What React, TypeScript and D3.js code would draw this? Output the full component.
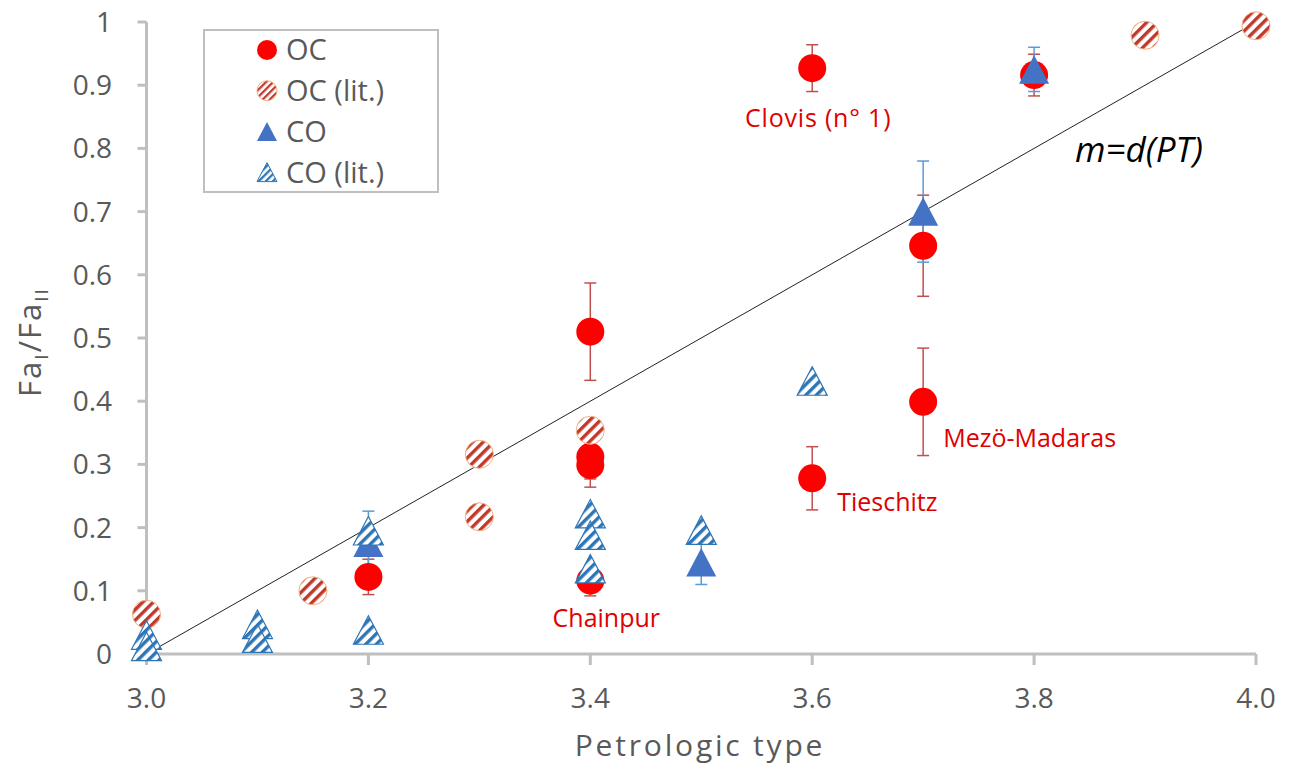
import React from "react";
import * as d3 from "d3";

const ocX = [3.2, 3.4, 3.4, 3.4, 3.4, 3.6, 3.6, 3.7, 3.7, 3.8];
const ocY = [0.122, 0.51, 0.312, 0.299, 0.116, 0.927, 0.278, 0.646, 0.399, 0.916];
const ocErr = [0.028, 0.077, 0.035, 0.035, 0.024, 0.037, 0.05, 0.08, 0.085, 0.033];

const ocLitX = [3.0, 3.15, 3.3, 3.3, 3.4, 3.9, 4.0];
const ocLitY = [0.063, 0.1, 0.316, 0.217, 0.354, 0.979, 0.994];

const coX = [3.2, 3.5, 3.7, 3.8];
const coY = [0.176, 0.145, 0.7, 0.925];
const coErr = [0.05, 0.035, 0.08, 0.035];

const coLitX = [3.0, 3.0, 3.1, 3.1, 3.2, 3.2, 3.4, 3.4, 3.4, 3.5, 3.6];
const coLitY = [0.03, 0.012, 0.047, 0.025, 0.038, 0.195, 0.222, 0.188, 0.135, 0.196, 0.432];

const fitLine = [
  [3.01, 0.01],
  [4.0, 1.0],
];

const xTicks = [3.0, 3.2, 3.4, 3.6, 3.8, 4.0];
const yTicks = [0, 0.1, 0.2, 0.3, 0.4, 0.5, 0.6, 0.7, 0.8, 0.9, 1];

const legendNames = ["OC", "OC (lit.)", "CO", "CO (lit.)"];

const labelNames = ["Clovis (n° 1)", "Chainpur", "Tieschitz", "Mezö-Madaras"];
const labelX = [3.6, 3.4, 3.6, 3.7];
const labelY = [0.927, 0.116, 0.278, 0.399];

const W = 1296;
const H = 771;
const FONT = "'Open Sans', Lato, sans-serif";
const GREY = "#595959";
const AXIS = "#BFBFBF";
const RED = "#FF0000";
const RED_ERR = "#C0504D";
const HATCH_RED = "#C0392B";
const BLUE = "#4472C4";
const BLUE_ERR = "#5B9BD5";
const HATCH_BLUE = "#2E75B6";
const LABEL_RED = "#E00000";

const x = d3.scaleLinear().domain([3, 4]).range([146.5, 1256]);
const y = d3.scaleLinear().domain([0, 1]).range([654, 22]);

const R = 14;
const TRI = 15; // half-width

function triPath(cx: number, cy: number, h: number) {
  const hh = h * 0.95;
  return `M${cx},${cy - hh} L${cx + h},${cy + hh} L${cx - h},${cy + hh} Z`;
}

function ErrBar({ px, v, e, color }: { px: number; v: number; e: number; color: string }) {
  const y1 = y(v + e);
  const y2 = y(v - e);
  return (
    <g stroke={color} strokeWidth={1.5}>
      <line x1={px} x2={px} y1={y1} y2={y2} />
      <line x1={px - 6} x2={px + 6} y1={y1} y2={y1} />
      <line x1={px - 6} x2={px + 6} y1={y2} y2={y2} />
    </g>
  );
}

export default function App() {
  const line = d3
    .line<number[]>()
    .x((d) => x(d[0]))
    .y((d) => y(d[1]));

  return (
    <svg
      width={W}
      height={H}
      style={{ position: "absolute", left: 0, top: 0, background: "#fff" }}
      fontFamily={FONT}
    >
      <defs>
        <pattern id="hRed" patternUnits="userSpaceOnUse" width={7.5} height={7.5} patternTransform="rotate(45)">
          <rect width={7.5} height={7.5} fill="#fff" />
          <rect width={3.4} height={7.5} fill={HATCH_RED} />
        </pattern>
        <pattern id="hBlue" patternUnits="userSpaceOnUse" width={7.5} height={7.5} patternTransform="rotate(45)">
          <rect width={7.5} height={7.5} fill="#fff" />
          <rect width={3.4} height={7.5} fill={HATCH_BLUE} />
        </pattern>
        <pattern id="hRedS" patternUnits="userSpaceOnUse" width={5} height={5} patternTransform="rotate(45)">
          <rect width={5} height={5} fill="#fff" />
          <rect width={2.3} height={5} fill={HATCH_RED} />
        </pattern>
        <pattern id="hBlueS" patternUnits="userSpaceOnUse" width={5} height={5} patternTransform="rotate(45)">
          <rect width={5} height={5} fill="#fff" />
          <rect width={2.3} height={5} fill={HATCH_BLUE} />
        </pattern>
      </defs>

      {/* axes */}
      <line x1={x(3)} x2={x(4)} y1={y(0)} y2={y(0)} stroke={AXIS} strokeWidth={3} />
      <line x1={x(3)} x2={x(3)} y1={y(0)} y2={y(1)} stroke={AXIS} strokeWidth={3} />
      {yTicks.map((t) => (
        <g key={"y" + t}>
          <line x1={x(3) - 9} x2={x(3)} y1={y(t)} y2={y(t)} stroke={AXIS} strokeWidth={3} />
          <text x={112} y={y(t)} dy="0.36em" textAnchor="end" fontSize={28} fill={GREY}>
            {t === 0 || t === 1 ? String(t) : t.toFixed(1)}
          </text>
        </g>
      ))}
      {xTicks.map((t) => (
        <g key={"x" + t}>
          <line x1={x(t)} x2={x(t)} y1={y(0)} y2={y(0) + 11} stroke={AXIS} strokeWidth={3} />
          <text x={x(t)} y={698} dy="0.36em" textAnchor="middle" fontSize={28} fill={GREY}>
            {t.toFixed(1)}
          </text>
        </g>
      ))}
      <text x={700} y={756} textAnchor="middle" fontSize={30} letterSpacing={2.8} fill={GREY}>
        Petrologic type
      </text>
      <text transform="translate(30,342) rotate(-90)" textAnchor="middle" dy="0.36em" fontSize={31} letterSpacing={2} fill={GREY}>
        Fa
        <tspan fontSize={19} dy={7}>I</tspan>
        <tspan dy={-7}>/Fa</tspan>
        <tspan fontSize={19} dy={7}>II</tspan>
      </text>

      {/* fit line */}
      <path d={line(fitLine) || ""} fill="none" stroke="#222" strokeWidth={1} />
      <text x={1075} y={162} fontSize={35} fontStyle="italic" fill="#000">
        m=d(PT)
      </text>

      {/* error bars */}
      {ocX.map((v, i) => (
        <ErrBar key={"oe" + i} px={x(v)} v={ocY[i]} e={ocErr[i]} color={RED_ERR} />
      ))}
      {coX.map((v, i) => (
        <ErrBar key={"ce" + i} px={x(v)} v={coY[i]} e={coErr[i]} color={BLUE_ERR} />
      ))}

      {/* OC */}
      {ocX.map((v, i) => (
        <circle key={"oc" + i} cx={x(v)} cy={y(ocY[i])} r={R} fill={RED} />
      ))}
      {/* OC lit */}
      {ocLitX.map((v, i) => (
        <circle key={"ol" + i} cx={x(v)} cy={y(ocLitY[i])} r={R} fill="url(#hRed)" stroke="#F4B183" strokeWidth={1} />
      ))}
      {/* CO */}
      {coX.map((v, i) => (
        <path key={"co" + i} d={triPath(x(v), y(coY[i]), TRI)} fill={BLUE} />
      ))}
      {/* CO lit */}
      {coLitX.map((v, i) => (
        <path
          key={"cl" + i}
          d={triPath(x(v), y(coLitY[i]), TRI)}
          fill="url(#hBlue)"
          stroke={HATCH_BLUE}
          strokeWidth={1.2}
        />
      ))}

      {/* labels */}
      <text x={x(labelX[0]) + 6} y={y(labelY[0]) + 59} textAnchor="middle" fontSize={25} letterSpacing={0.8} fill={LABEL_RED}>
        {labelNames[0]}
      </text>
      <text x={x(labelX[1]) + 16} y={y(labelY[1]) + 46} textAnchor="middle" fontSize={25} fill={LABEL_RED}>
        {labelNames[1]}
      </text>
      <text x={x(labelX[2]) + 25} y={y(labelY[2]) + 33} textAnchor="start" fontSize={25} fill={LABEL_RED}>
        {labelNames[2]}
      </text>
      <text x={x(labelX[3]) + 20} y={y(labelY[3]) + 45} textAnchor="start" fontSize={25} fill={LABEL_RED}>
        {labelNames[3]}
      </text>

      {/* legend */}
      <rect x={204} y={30} width={234} height={162} fill="#fff" stroke={AXIS} strokeWidth={2} />
      {legendNames.map((n, i) => {
        const cy = 50 + i * 40.7;
        const cx = 267;
        let marker;
        if (i === 0) marker = <circle cx={cx} cy={cy} r={10} fill={RED} />;
        else if (i === 1)
          marker = <circle cx={cx} cy={cy} r={10} fill="url(#hRedS)" stroke="#F4B183" strokeWidth={1} />;
        else if (i === 2) marker = <path d={triPath(cx, cy, 10)} fill={BLUE} />;
        else marker = <path d={triPath(cx, cy, 10)} fill="url(#hBlueS)" stroke={HATCH_BLUE} strokeWidth={1} />;
        return (
          <g key={"lg" + i}>
            {marker}
            <text x={286} y={cy} dy="0.36em" fontSize={29} fill={GREY}>
              {n}
            </text>
          </g>
        );
      })}
    </svg>
  );
}
